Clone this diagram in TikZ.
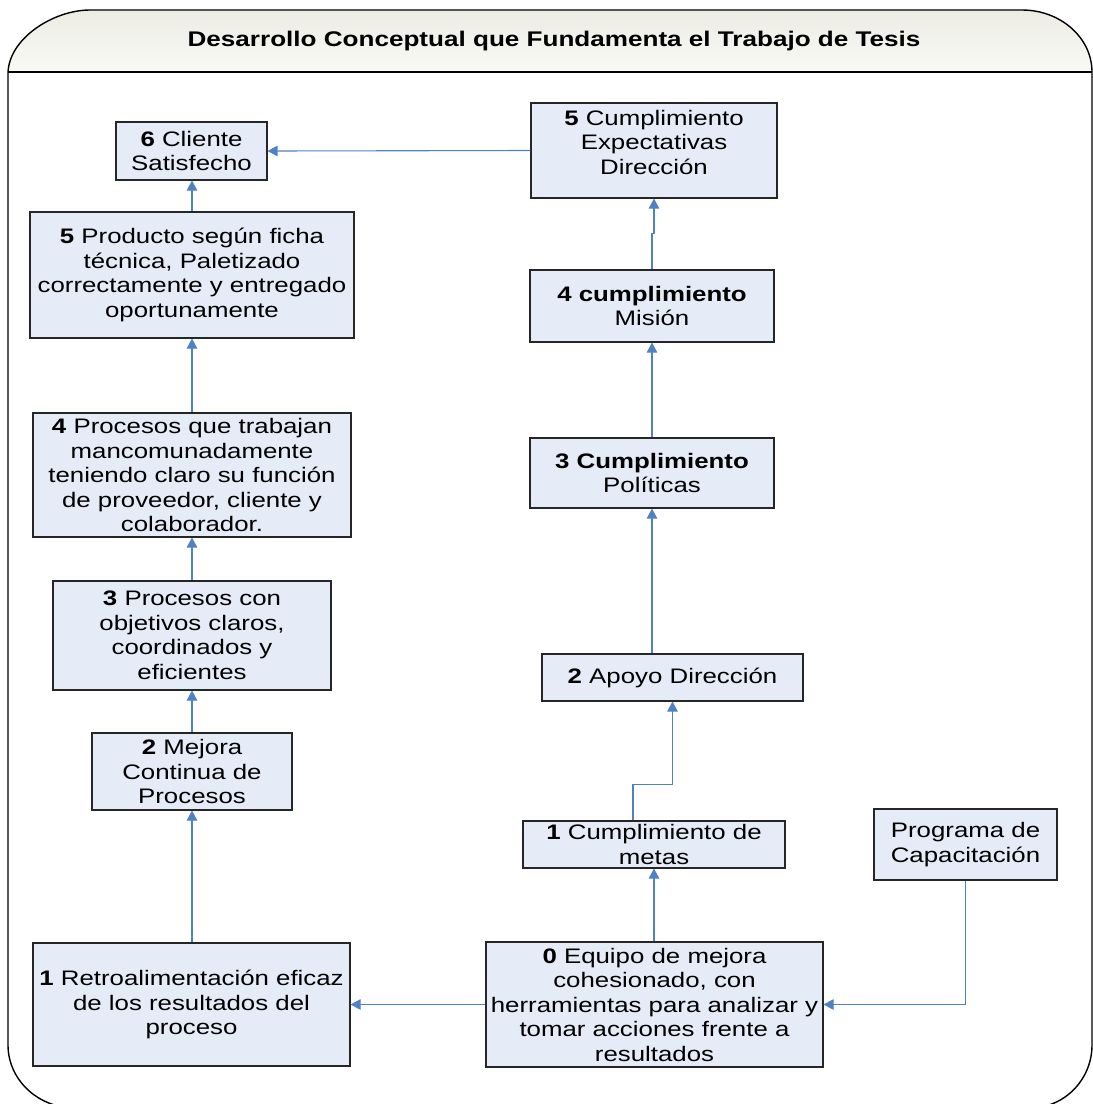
\documentclass[tikz,border=0pt]{standalone}
\usepackage{fontspec}
\setmainfont{Liberation Sans}[FakeStretch=1.23]
\usetikzlibrary{arrows.meta,shadows}
\definecolor{boxblue}{RGB}{230,236,247}
\definecolor{arrowblue}{RGB}{79,129,197}
\definecolor{headtop}{RGB}{236,236,228}
\definecolor{headbot}{RGB}{250,250,246}
\tikzset{
  box/.style={draw=black!85, fill=boxblue, line width=1.1pt, inner sep=0pt, align=center,
    font=\fontsize{21}{24.5}\selectfont,
    general shadow={fill=black!40, shadow xshift=1.2pt, shadow yshift=-1.2pt}},
  txt/.style={inner sep=0pt, align=center, font=\fontsize{21}{24.5}\selectfont},
  arr/.style={draw=arrowblue, line width=1.1pt, -{Triangle[width=10.5pt,length=10pt]}},
  frameline/.style={draw=black, line width=1.4pt}
}
\begin{document}
\begin{tikzpicture}[x=1pt,y=-1pt]
\useasboundingbox (0,0) rectangle (1093,1104);
% header shading
\shade[top color=headtop, bottom color=headbot]
  (8,72) -- (8,74) .. controls (8,38.7) and (53.3,10) .. (90,10) -- (1022,10)
  .. controls (1060.6,10) and (1092,37.8) .. (1092,72) -- cycle;
% frame
\draw[frameline] (8,1045) -- (8,74) .. controls (8,38.7) and (53.3,10) .. (90,10) -- (1022,10)
  .. controls (1060.6,10) and (1092,37.8) .. (1092,72) -- (1092,1045)
  .. controls (1092,1079.8) and (1064.2,1108) .. (1030,1108) -- (75,1108)
  .. controls (38,1108) and (8,1079.8) .. (8,1045);
\draw[frameline] (8,72) -- (1092,72);
\node[txt, font=\fontsize{21.2}{24.5}\selectfont\bfseries] (title) at (554,41) {Desarrollo Conceptual que Fundamenta el Trabajo de Tesis};

% left column
\node[box, minimum width=151pt, minimum height=58pt] (cliente) at (191.5,151) {\textbf{6} Cliente\\Satisfecho};
\node[box, minimum width=324pt, minimum height=126pt] (producto) at (192,275) {\textbf{5} Producto según ficha\\técnica, Paletizado\\correctamente y entregado\\oportunamente};
\node[box, minimum width=318pt, minimum height=124pt] (procesosB) at (192,475) {\textbf{4} Procesos que trabajan\\mancomunadamente\\teniendo claro su función\\de proveedor, cliente y\\colaborador.};
\node[box, minimum width=278pt, minimum height=109pt] (procesosA) at (192,635.5) {\textbf{3} Procesos con\\objetivos claros,\\coordinados y\\eficientes};
\node[box, minimum width=200pt, minimum height=77pt] (mejora) at (192,771.5) {\textbf{2} Mejora\\Continua de\\Procesos};
\node[box, minimum width=317pt, minimum height=123pt] (retro) at (191.5,1004.5) {\textbf{1} Retroalimentación eficaz\\de los resultados del\\proceso};

% right column
\node[box, minimum width=246pt, minimum height=95pt] (expect) at (654,150.5) {};
\node[txt] (expecttxt) at ([yshift=8.5pt]expect.center) {\textbf{5} Cumplimiento\\Expectativas\\Dirección};
\node[box, minimum width=244pt, minimum height=72pt] (mision) at (652,306) {\textbf{4 cumplimiento}\\Misión};
\node[box, minimum width=244pt, minimum height=70pt] (politicas) at (652,473) {\textbf{3 Cumplimiento}\\Políticas};
\node[box, minimum width=261pt, minimum height=47pt] (apoyo) at (672.5,677.5) {\textbf{2} Apoyo Dirección};
\node[box, minimum width=262pt, minimum height=47pt] (metas) at (654,844.5) {\textbf{1} Cumplimiento de\\metas};
\node[box, minimum width=183pt, minimum height=71pt] (programa) at (965.5,844.5) {Programa de\\Capacitación};
\node[box, minimum width=337pt, minimum height=125pt] (equipo) at (654.5,1004.5) {\textbf{0} Equipo de mejora\\cohesionado, con\\herramientas para analizar y\\tomar acciones frente a\\resultados};

% connectors left
\draw[arr] (expect.west) -- (cliente.east);
\draw[arr] (producto.north) -- (cliente.south -| producto.north);
\draw[arr] (procesosB.north) -- (producto.south);
\draw[arr] (procesosA.north) -- (procesosB.south);
\draw[arr] (mejora.north) -- (procesosA.south);
\draw[arr] (retro.north -| mejora.south) -- (mejora.south);
\draw[arr] (equipo.west) -- (retro.east);
% connectors right
\draw[arr] (programa.south) |- (equipo.east);
\draw[arr] (equipo.north -| metas.south) -- (metas.south);
\draw[arr] ([xshift=-21pt]metas.north) -- ++(0,-36) -| (apoyo.south);
\draw[arr] (apoyo.north -| politicas.south) -- (politicas.south);
\draw[arr] (politicas.north) -- (mision.south);
\draw[arr] (mision.north) -- ++(0,-36) -| (expect.south);
\end{tikzpicture}
\end{document}
